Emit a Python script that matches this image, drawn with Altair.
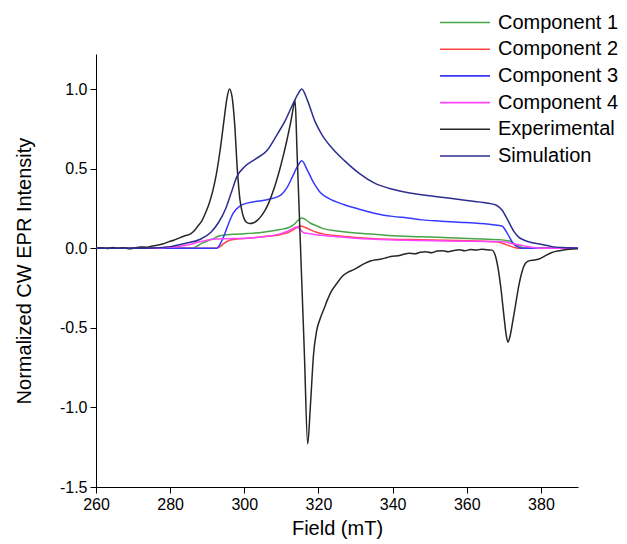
import altair as alt
import pandas as pd

series_names = ["Component 1", "Component 2", "Component 3", "Component 4",
                "Experimental", "Simulation"]
series_colors = ["#47a447", "#ff4545", "#3838ff", "#ff45ff", "#262626", "#2e2e90"]

# Component 1 (green)
c1_field = [260, 286, 287, 288.5, 290, 291.7, 293, 294.4, 297, 300.7, 305, 309.6, 312,
            313.2, 314.5, 315.5, 316.5, 317.7, 319.5, 321.3, 325, 330, 335, 339, 347.5,
            355, 362, 369, 371.5, 373, 374.5, 376, 390]
c1_int = [0, 0, 0.01, 0.03, 0.045, 0.06, 0.075, 0.082, 0.087, 0.092, 0.1, 0.117, 0.13,
          0.145, 0.175, 0.19, 0.18, 0.16, 0.14, 0.123, 0.108, 0.095, 0.088, 0.08, 0.072,
          0.066, 0.06, 0.053, 0.045, 0.025, 0.01, 0, 0]

# Component 2 (red)
c2_field = [260, 292.5, 293.5, 294.5, 296, 298, 300.7, 305, 309.6, 312, 313.5, 315,
            316.5, 317.7, 319.5, 321.3, 325, 330, 339, 347.5, 358, 365, 368, 370, 371.5,
            373, 374, 390]
c2_int = [0, 0, 0.01, 0.03, 0.05, 0.058, 0.063, 0.072, 0.085, 0.1, 0.12, 0.14,
          0.13, 0.117, 0.1, 0.09, 0.078, 0.068, 0.057, 0.053, 0.048, 0.043, 0.04, 0.028,
          0.015, 0.004, 0, 0]

# Component 3 (blue)
c3_field = [260, 292.5, 294, 295.2, 296.2, 297, 298.8, 301, 305, 309.6, 311.5, 313,
            314.5, 315.5, 317, 318.5, 320.5, 323, 326.8, 331, 335, 340, 344, 348, 353,
            358, 362, 367, 369.5, 370.5, 371.5, 372.7, 374, 375, 390]
c3_int = [0, 0, 0.05, 0.12, 0.18, 0.22, 0.265, 0.285, 0.30, 0.33, 0.38, 0.45,
          0.52, 0.55, 0.49, 0.42, 0.35, 0.31, 0.275, 0.245, 0.22, 0.2, 0.19, 0.178, 0.17,
          0.163, 0.158, 0.148, 0.14, 0.11, 0.07, 0.025, 0.005, 0, 0]

# Component 4 (magenta)
c4_field = [260, 276, 278, 280, 282.7, 285, 288, 291.7, 295, 300.7, 305, 309.6, 312,
            313.2, 314, 315, 316, 318, 321.3, 325, 330, 339, 347.5, 358, 365, 370, 372,
            374.5, 376, 378, 380, 390]
c4_int = [0, 0, 0.003, 0.008, 0.012, 0.022, 0.04, 0.056, 0.06, 0.063, 0.072, 0.09, 0.11,
          0.125, 0.133, 0.12, 0.097, 0.09, 0.08, 0.072, 0.063, 0.053, 0.048, 0.044, 0.042,
          0.04, 0.03, 0.02, 0.012, 0.005, 0, 0]

# Experimental (black)
exp_field = [260, 261.5, 263, 264.5, 266, 267.5, 269, 270.5, 272, 273.5, 275, 276.5, 278,
             279.5, 281, 282.5, 284, 285.5, 286.5, 287.5, 288.5, 289.5, 290.5, 291.5,
             292.5, 293.5, 294.5, 295.3, 296, 296.7, 297.4, 298.1, 298.8, 299.6, 300.5,
             301.5, 302.5, 303.5, 304.5, 305.5, 306.5, 307.5, 308.5, 309.5, 310.5, 311.5,
             312.5, 313.2, 313.7, 314.2, 315.2, 316.2, 317.1, 317.8, 318.7, 319.5, 320.5,
             321.5, 322.5, 323.5, 325, 326.5, 328, 329.5, 331, 332.5, 334, 335.5, 337,
             338.5, 340, 341.5, 343, 344.5, 346, 347.5, 349, 350.5, 352, 353.5, 355,
             356.5, 358, 359.5, 361, 362.5, 364, 365.5, 366.8, 367.6, 368.4, 369.2, 370,
             370.6, 371.1, 371.7, 372.4, 373.2, 374, 375, 376, 377, 378, 379.5, 381,
             382.5, 384, 385.5, 387, 388.5, 390]
exp_int = [0.0, 0.003, -0.002, 0.004, 0.0, 0.003, -0.003, 0.002, 0.008, 0.006, 0.013,
           0.018, 0.026, 0.04, 0.05, 0.065, 0.078, 0.09, 0.11, 0.14, 0.17, 0.22, 0.28,
           0.36, 0.47, 0.62, 0.8, 0.94, 1.0, 0.95, 0.78, 0.5, 0.31, 0.21, 0.165, 0.155,
           0.16, 0.175, 0.2, 0.235, 0.28, 0.34, 0.41, 0.49, 0.58, 0.68, 0.79, 0.88, 0.93,
           0.62, -0.02, -0.66, -1.23, -1.0, -0.66, -0.52, -0.44, -0.38, -0.32, -0.27,
           -0.22, -0.175, -0.15, -0.135, -0.115, -0.095, -0.08, -0.072, -0.068, -0.058,
           -0.05, -0.048, -0.038, -0.032, -0.035, -0.025, -0.022, -0.028, -0.018, -0.016,
           -0.022, -0.015, -0.01, -0.016, -0.008, -0.012, -0.006, -0.01, -0.012, -0.04,
           -0.12, -0.25, -0.42, -0.54, -0.59, -0.55, -0.46, -0.35, -0.24, -0.14, -0.09,
           -0.078, -0.075, -0.068, -0.05, -0.032, -0.02, -0.014, -0.008, -0.005, -0.004]

# Simulation (navy)
sim_field = [260, 270, 276, 280, 284, 288, 291, 293, 295, 296.5, 298, 300, 303, 306, 309,
             311, 313, 314.5, 315.5, 317, 319, 321, 324, 327, 331, 335, 340, 345, 350, 355,
             360, 365, 368, 369.5, 371, 372.7, 374, 375.5, 378, 380, 383, 386, 390]
sim_int = [0, 0, 0.002, 0.01, 0.03, 0.055, 0.1, 0.16, 0.25, 0.35, 0.45, 0.51, 0.56, 0.61,
           0.72, 0.8, 0.9, 0.97, 1.0, 0.93, 0.8, 0.71, 0.62, 0.55, 0.47, 0.41, 0.37, 0.345,
           0.33, 0.315, 0.3, 0.285, 0.27, 0.24, 0.18, 0.106, 0.07, 0.05, 0.033, 0.025,
           0.01, 0.004, 0]

x_ticks = [260, 280, 300, 320, 340, 360, 380]
y_ticks = [-1.5, -1.0, -0.5, 0.0, 0.5, 1.0]

frames = []
for i, (name, xs, ys) in enumerate([
        ("Component 1", c1_field, c1_int),
        ("Component 2", c2_field, c2_int),
        ("Component 3", c3_field, c3_int),
        ("Component 4", c4_field, c4_int),
        ("Experimental", exp_field, exp_int),
        ("Simulation", sim_field, sim_int)]):
    frames.append(pd.DataFrame({"field": xs, "intensity": ys, "series": name, "k": i}))
df = pd.concat(frames, ignore_index=True)

FONT = "Liberation Sans"

chart = alt.Chart(df).mark_line(strokeWidth=1.5, interpolate="monotone").encode(
    x=alt.X("field:Q",
            scale=alt.Scale(domain=[260, 390], nice=False, zero=False),
            axis=alt.Axis(values=x_ticks, title="Field (mT)", format="d",
                          labelFlush=False, titlePadding=6)),
    y=alt.Y("intensity:Q",
            scale=alt.Scale(domain=[-1.5, 1.22], nice=False, zero=False),
            axis=alt.Axis(values=y_ticks, title="Normalized CW EPR Intensity",
                          labelExpr="datum.value < 0 ? '-' + format(-datum.value, '.1f') : format(datum.value, '.1f')",
                          labelFlush=False, titlePadding=25)),
    color=alt.Color("series:N",
                    scale=alt.Scale(domain=series_names, range=series_colors),
                    legend=alt.Legend(title=None, orient="none", legendX=343, legendY=-41.5,
                                      symbolType="stroke", symbolSize=2500,
                                      symbolStrokeWidth=1.6, labelFontSize=20,
                                      labelFont=FONT, labelColor="black",
                                      clipHeight=20, rowPadding=6.7, labelOffset=7,
                                      padding=0)),
    detail="k:O",
).properties(
    width=482, height=433,
    background="white",
    autosize=alt.AutoSizeParams(type="none"),
    padding={"left": 96, "top": 54, "right": 49, "bottom": 57},
).configure_view(stroke=None).configure_axis(
    grid=False, domainColor="black", domainWidth=1, tickColor="black", tickSize=6,
    tickWidth=1, labelFont=FONT, labelFontSize=16, labelColor="black", labelPadding=3,
    titleFont=FONT, titleFontSize=20, titleFontWeight="normal", titleColor="black",
)

chart.save("out.html", embed_options={"renderer": "svg", "actions": False})
